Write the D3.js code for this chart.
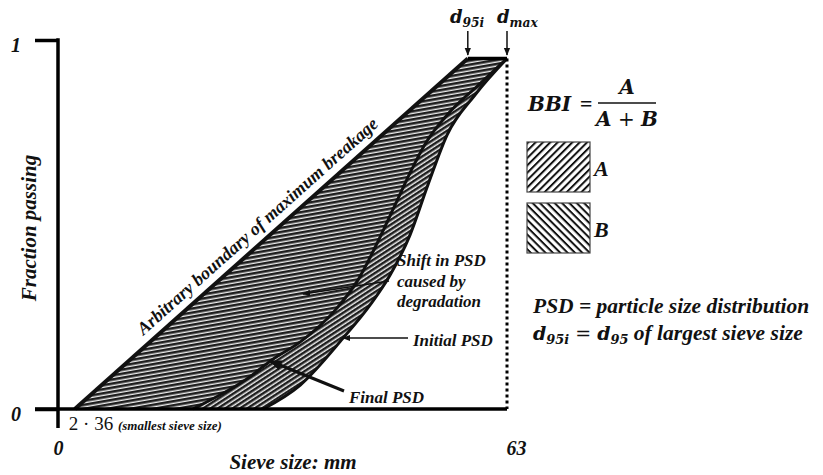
<!DOCTYPE html>
<html>
<head>
<meta charset="utf-8">
<script src="https://cdn.jsdelivr.net/npm/d3@7"></script>
</head>
<body style="margin:0">
<svg id="chart" width="823" height="475"></svg>
<script>
// values (sieve size in mm, fraction passing)
const xTicks = [0, 63];
const yTicks = [0, 1];
const minSieve = 2.36;
const d95i = 57.5;
const dMax = 63;
const topFrac = 0.95;
const maxBoundary = [[2.36, 0], [57.5, 0.95]];
const topLine = [[57.5, 0.95], [63, 0.95]];
const finalPSD = [[18.9, 0], [26.9, 0.087], [30.0, 0.133], [34.0, 0.182], [38.9, 0.268], [42.1, 0.35],
    [45.0, 0.458], [47.3, 0.553], [49.6, 0.648], [51.6, 0.721], [54.6, 0.797], [59.0, 0.878], [63, 0.95]];
const initialPSD = [[28.8, 0], [34.0, 0.065], [40.0, 0.192], [43.8, 0.282], [46.6, 0.363], [49.4, 0.472],
    [51.9, 0.607], [54.6, 0.743], [58.5, 0.851], [63, 0.95]];

const serif = "Liberation Serif";
const mathFont = "DejaVu Serif";

const svg = d3.select("#chart");

const x = d3.scaleLinear().domain([0, 63]).range([58, 507]);
const y = d3.scaleLinear().domain([0, 1]).range([409, 40]);

const defs = svg.append("defs");

function stripes(id, angle, period, darkW, dark, light) {
    const p = defs.append("pattern")
        .attr("id", id)
        .attr("patternUnits", "userSpaceOnUse")
        .attr("width", period)
        .attr("height", period)
        .attr("patternTransform", `rotate(${angle})`);
    p.append("rect").attr("width", period).attr("height", period).attr("fill", light);
    p.append("rect").attr("width", period).attr("height", darkW).attr("fill", dark);
}
stripes("bandA", -10, 4, 2.6, "#1e1e1e", "#efefef");
stripes("bandB", -33, 4, 2.5, "#1e1e1e", "#efefef");
stripes("legA", -45, 5.2, 2.0, "#111", "#fff");
stripes("legB", 45, 5.2, 2.0, "#111", "#fff");

function arrowMarker(id, size) {
    defs.append("marker")
        .attr("id", id)
        .attr("viewBox", "0 0 10 10")
        .attr("refX", 9).attr("refY", 5)
        .attr("markerUnits", "userSpaceOnUse")
        .attr("markerWidth", size).attr("markerHeight", size)
        .attr("orient", "auto")
        .append("path").attr("d", "M0,1 L10,5 L0,9 Z").attr("fill", "#111");
}
arrowMarker("arrS", 8);
arrowMarker("arrL", 13);

const lin = d3.line().x(d => x(d[0])).y(d => y(d[1]));
const crv = d3.line().x(d => x(d[0])).y(d => y(d[1])).curve(d3.curveMonotoneX);

// region between max breakage boundary and final PSD
const bigBand = lin(maxBoundary.concat(topLine)) + "L" + crv(finalPSD.slice().reverse()).slice(1) + "Z";
// region between final and initial PSD
const narrowBand = crv(finalPSD) + "L" + crv(initialPSD.slice().reverse()).slice(1) + "Z";

svg.append("path").attr("d", bigBand).attr("fill", "url(#bandA)");
svg.append("path").attr("d", narrowBand).attr("fill", "url(#bandB)");

svg.append("path").attr("d", lin(maxBoundary)).attr("fill", "none").attr("stroke", "#111").attr("stroke-width", 4);
svg.append("path").attr("d", crv(finalPSD)).attr("fill", "none").attr("stroke", "#111").attr("stroke-width", 3);
svg.append("path").attr("d", crv(initialPSD)).attr("fill", "none").attr("stroke", "#111").attr("stroke-width", 3);
svg.append("path").attr("d", lin(topLine)).attr("fill", "none").attr("stroke", "#000").attr("stroke-width", 3.5);

// dotted line at d_max
svg.append("line")
    .attr("x1", x(dMax)).attr("x2", x(dMax))
    .attr("y1", y(topFrac)).attr("y2", y(0))
    .attr("stroke", "#000").attr("stroke-width", 3).attr("stroke-dasharray", "3,3");

// axes
svg.append("g")
    .attr("transform", `translate(${x(0)},0)`)
    .call(d3.axisLeft(y).tickValues(yTicks).tickSize(23).tickPadding(14).tickFormat(d3.format("d")))
    .call(g => g.attr("font-size", 20).attr("font-family", null))
    .call(g => g.select(".domain").remove())
    .call(g => g.selectAll("line").attr("stroke", "#000").attr("stroke-width", 3.5))
    .call(g => g.selectAll("text").attr("dy", "0.55em").attr("fill", "#111"));

svg.append("line").attr("x1", x(0)).attr("x2", x(0)).attr("y1", y(1) - 1.75).attr("y2", 428)
    .attr("stroke", "#000").attr("stroke-width", 3.5);
svg.append("line").attr("x1", 35).attr("x2", x(dMax)).attr("y1", y(0)).attr("y2", y(0))
    .attr("stroke", "#000").attr("stroke-width", 3.5);

svg.append("g")
    .attr("transform", `translate(0,${y(0)})`)
    .call(d3.axisBottom(x).tickValues(xTicks).tickSize(0).tickPadding(32).tickFormat(d3.format("d")))
    .call(g => g.attr("font-size", 20).attr("font-family", null))
    .call(g => g.select(".domain").remove())
    .call(g => g.selectAll("text").attr("dx", d => d === 63 ? 9 : 0).attr("fill", "#111"));

svg.append("text").attr("x", 293).attr("y", 469).attr("text-anchor", "middle").attr("font-size", 21)
    .text("Sieve size: mm");
svg.append("text").attr("transform", "translate(36,228) rotate(-90)").attr("text-anchor", "middle")
    .attr("font-size", 21).text("Fraction passing");

// smallest sieve label
const ss = svg.append("text").attr("x", x(minSieve) - 6).attr("y", 430);
ss.append("tspan").attr("font-style", "normal").attr("font-weight", "normal").attr("font-size", 19).text("2 · 36 ");
ss.append("tspan").attr("font-size", 13).text("(smallest sieve size)");

// boundary label along the line
const ang = Math.atan2(y(topFrac) - y(0), x(d95i) - x(minSieve)) * 180 / Math.PI;
const t = 0.49;
const bx = x(minSieve) + t * (x(d95i) - x(minSieve));
const by = y(0) + t * (y(topFrac) - y(0));
svg.append("text").attr("transform", `translate(${bx},${by}) rotate(${ang})`)
    .attr("text-anchor", "middle").attr("dy", -9).attr("font-size", 18)
    .text("Arbitrary boundary of maximum breakage");

// annotations
svg.append("line").attr("x1", 389).attr("y1", 281).attr("x2", 303).attr("y2", 294)
    .attr("stroke", "#111").attr("stroke-width", 1.6).attr("marker-end", "url(#arrS)");
[["Shift in PSD", 266], ["caused by", 287], ["degradation", 307]].forEach(([s, yy]) => {
    svg.append("text").attr("x", 397).attr("y", yy).attr("font-size", 17).text(s);
});

svg.append("line").attr("x1", 408).attr("y1", 338).attr("x2", 343).attr("y2", 338)
    .attr("stroke", "#111").attr("stroke-width", 1.6).attr("marker-end", "url(#arrS)");
svg.append("text").attr("x", 413).attr("y", 346).attr("font-size", 17).text("Initial PSD");

svg.append("line").attr("x1", 344).attr("y1", 391).attr("x2", 270).attr("y2", 361)
    .attr("stroke", "#111").attr("stroke-width", 3).attr("marker-end", "url(#arrL)");
svg.append("text").attr("x", 349).attr("y", 403).attr("font-size", 17).text("Final PSD");

// d labels with subscripts
function dLabel(xx, yy, sub, size) {
    const tx = svg.append("text").attr("x", xx).attr("y", yy).attr("font-size", size)
        .attr("font-family", mathFont);
    tx.append("tspan").text("d");
    tx.append("tspan").attr("font-size", size * 0.68).attr("dy", size * 0.22).text(sub);
    return tx;
}
dLabel(450, 23, "95i", 18);
dLabel(497, 23, "max", 18);
svg.append("line").attr("x1", x(d95i)).attr("x2", x(d95i)).attr("y1", 31).attr("y2", 55)
    .attr("stroke", "#111").attr("stroke-width", 1.5).attr("marker-end", "url(#arrS)");
svg.append("line").attr("x1", x(dMax)).attr("x2", x(dMax)).attr("y1", 31).attr("y2", 55)
    .attr("stroke", "#111").attr("stroke-width", 1.5).attr("marker-end", "url(#arrS)");

// BBI formula
svg.append("text").attr("x", 528).attr("y", 111).attr("font-size", 20).attr("font-family", mathFont).text("BBI");
svg.append("text").attr("x", 586).attr("y", 111).attr("font-size", 22).attr("font-style", "normal")
    .attr("font-weight", "normal").attr("text-anchor", "middle").text("=");
svg.append("text").attr("x", 627).attr("y", 94).attr("font-size", 20).attr("text-anchor", "middle")
    .attr("font-family", mathFont).text("A");
svg.append("line").attr("x1", 598).attr("x2", 656).attr("y1", 103).attr("y2", 103).attr("stroke", "#111").attr("stroke-width", 1.3);
const ab = svg.append("text").attr("x", 627).attr("y", 126).attr("font-size", 20).attr("text-anchor", "middle")
    .attr("font-family", mathFont);
ab.append("tspan").text("A");
ab.append("tspan").attr("font-style", "normal").attr("font-weight", "normal").text(" + ");
ab.append("tspan").text("B");

// legend swatches
[["legA", "A", 142], ["legB", "B", 203]].forEach(([pid, lab, top]) => {
    svg.append("rect").attr("x", 527).attr("y", top).attr("width", 63).attr("height", 50)
        .attr("fill", `url(#${pid})`).attr("stroke", "#444").attr("stroke-width", 1.2);
    svg.append("text").attr("x", 594).attr("y", top + 34).attr("font-size", 22).text(lab);
});

svg.append("text").attr("x", 533).attr("y", 313).attr("font-size", 21.5).text("PSD = particle size distribution");
const dd = dLabel(533, 340, "95i", 19);
dd.append("tspan").attr("dy", -19 * 0.22).attr("font-style", "normal").attr("font-weight", "normal").text(" = ");
dd.append("tspan").text("d");
dd.append("tspan").attr("font-size", 19 * 0.68).attr("dy", 19 * 0.22).text("95");
dd.append("tspan").attr("dy", -19 * 0.22).attr("font-family", serif).attr("font-size", 21.5).text(" of largest sieve size");

// text styling set on each element
svg.selectAll("text").each(function() {
    const el = d3.select(this);
    if (!this.getAttribute("font-family")) el.attr("font-family", serif);
    el.attr("font-weight", "bold").attr("font-style", "italic");
    if (!this.getAttribute("fill")) el.attr("fill", "#111");
});
</script>
</body>
</html>
